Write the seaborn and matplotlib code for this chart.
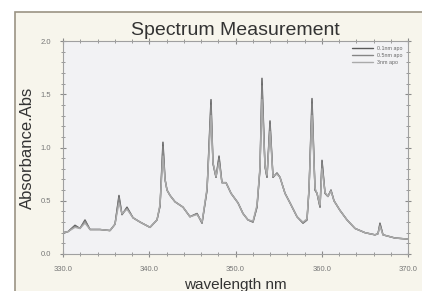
import seaborn as sns
import matplotlib.pyplot as plt
import pandas as pd
from matplotlib.patches import Rectangle
from matplotlib.ticker import MultipleLocator, FormatStrFormatter

wavelength = [330.0, 330.58, 331.39, 331.97, 332.55, 333.13, 334.29, 335.45, 336.03, 336.49,
              336.84, 337.42, 338.12, 338.93, 340.09, 340.90, 341.25, 341.59, 341.83, 342.06,
              342.41, 342.99, 343.91, 344.72, 345.54, 346.12, 346.70, 347.16, 347.39, 347.74,
              348.09, 348.43, 348.90, 349.48, 350.29, 350.87, 351.45, 352.03, 352.49, 352.84,
              353.07, 353.42, 353.65, 354.00, 354.35, 354.81, 355.16, 355.74, 356.32, 357.13,
              357.83, 358.29, 358.52, 358.87, 359.22, 359.45, 359.80, 360.03, 360.38, 360.72,
              361.07, 361.42, 362.11, 362.93, 363.86, 365.02, 366.17, 366.52, 366.75, 367.10,
              368.49, 370.0]

abs_01nm = [0.20, 0.21, 0.27, 0.24, 0.32, 0.23, 0.23, 0.22, 0.28, 0.55,
            0.37, 0.44, 0.34, 0.30, 0.25, 0.32, 0.45, 1.05, 0.70, 0.60,
            0.55, 0.49, 0.44, 0.35, 0.38, 0.29, 0.60, 1.45, 0.85, 0.72,
            0.92, 0.67, 0.67, 0.57, 0.48, 0.38, 0.32, 0.30, 0.44, 0.80,
            1.65, 0.82, 0.72, 1.25, 0.72, 0.76, 0.72, 0.57, 0.48, 0.35,
            0.29, 0.32, 0.60, 1.46, 0.60, 0.57, 0.44, 0.88, 0.57, 0.54,
            0.60, 0.50, 0.41, 0.32, 0.24, 0.20, 0.18, 0.19, 0.29, 0.18,
            0.15, 0.14]

abs_05nm = [0.20, 0.21, 0.26, 0.24, 0.31, 0.23, 0.23, 0.22, 0.28, 0.53,
            0.37, 0.43, 0.34, 0.30, 0.25, 0.32, 0.45, 1.01, 0.70, 0.60,
            0.55, 0.49, 0.44, 0.35, 0.38, 0.29, 0.60, 1.40, 0.85, 0.72,
            0.90, 0.67, 0.67, 0.57, 0.48, 0.38, 0.32, 0.30, 0.44, 0.80,
            1.58, 0.82, 0.72, 1.22, 0.72, 0.76, 0.72, 0.57, 0.48, 0.35,
            0.29, 0.32, 0.60, 1.41, 0.60, 0.57, 0.44, 0.86, 0.57, 0.54,
            0.60, 0.50, 0.41, 0.32, 0.24, 0.20, 0.18, 0.19, 0.28, 0.18,
            0.15, 0.14]

abs_3nm = [0.20, 0.21, 0.25, 0.24, 0.29, 0.23, 0.23, 0.22, 0.28, 0.48,
           0.38, 0.42, 0.34, 0.30, 0.25, 0.32, 0.47, 0.92, 0.70, 0.60,
           0.55, 0.49, 0.44, 0.35, 0.37, 0.30, 0.62, 1.30, 0.86, 0.73,
           0.86, 0.67, 0.67, 0.57, 0.48, 0.38, 0.32, 0.31, 0.46, 0.82,
           1.45, 0.83, 0.74, 1.15, 0.73, 0.75, 0.72, 0.57, 0.48, 0.35,
           0.30, 0.33, 0.62, 1.30, 0.62, 0.57, 0.46, 0.80, 0.58, 0.54,
           0.59, 0.50, 0.41, 0.32, 0.24, 0.20, 0.18, 0.19, 0.26, 0.18,
           0.15, 0.14]

labels = ['0.1nm apo', '0.5nm apo', '3nm apo']

df = pd.DataFrame({
    'wl': wavelength * 3,
    'abs': abs_01nm + abs_05nm + abs_3nm,
    'serie': [labels[0]] * len(wavelength) + [labels[1]] * len(wavelength) + [labels[2]] * len(wavelength),
})

sns.set_style("ticks")
plt.rcParams['font.family'] = ['Liberation Sans', 'DejaVu Sans']

fig = plt.figure(figsize=(4.22, 2.91), dpi=100)
fig.patch.set_facecolor('white')
# marco beige exterior (detras de los ejes)
marco = Rectangle((15 / 422, -0.1), 1.2, 0.1 + 279 / 291, transform=fig.transFigure,
                  facecolor='#f7f5ec', edgecolor='#9b9384', linewidth=1.2, zorder=-5)
fig.add_artist(marco)

ax = fig.add_axes([63 / 422, 37 / 291, 345 / 422, 213 / 291])
ax.set_zorder(1)
ax.set_facecolor('#f2f2f4')

sns.lineplot(data=df, x='wl', y='abs', hue='serie', ax=ax,
             palette=['#5a5a5a', '#858585', '#aaaaaa'], linewidth=1.0)

ax.set_xlim(330, 370)
ax.set_ylim(0, 2.0)
ax.xaxis.set_major_locator(MultipleLocator(10))
ax.xaxis.set_minor_locator(MultipleLocator(2))
ax.yaxis.set_major_locator(MultipleLocator(0.5))
ax.yaxis.set_minor_locator(MultipleLocator(0.1))
ax.xaxis.set_major_formatter(FormatStrFormatter('%.1f'))
ax.yaxis.set_major_formatter(FormatStrFormatter('%.1f'))
ax.tick_params(which='both', direction='inout', top=True, right=True, colors='#8a8a8a',
               labelsize=5.5, labelcolor='#777777')
ax.tick_params(which='major', length=5, width=0.8, pad=6)
ax.tick_params(which='minor', length=3, width=0.6)
for s in ax.spines.values():
    s.set_color('#a0a0a0')
    s.set_linewidth(0.8)

ax.set_title('Spectrum Measurement', fontsize=14, color='#333333', pad=4)
ax.set_xlabel('wavelength nm', fontsize=11, color='#333333', labelpad=4)
ax.set_ylabel('Absorbance.Abs', fontsize=12, color='#333333', labelpad=4)

leg = ax.legend(loc='upper right', fontsize=3.8, frameon=False, handlelength=4,
                labelspacing=0.35, borderaxespad=0.6)
for t in leg.get_texts():
    t.set_color('#666666')

fig.savefig('out.png', dpi=100)
